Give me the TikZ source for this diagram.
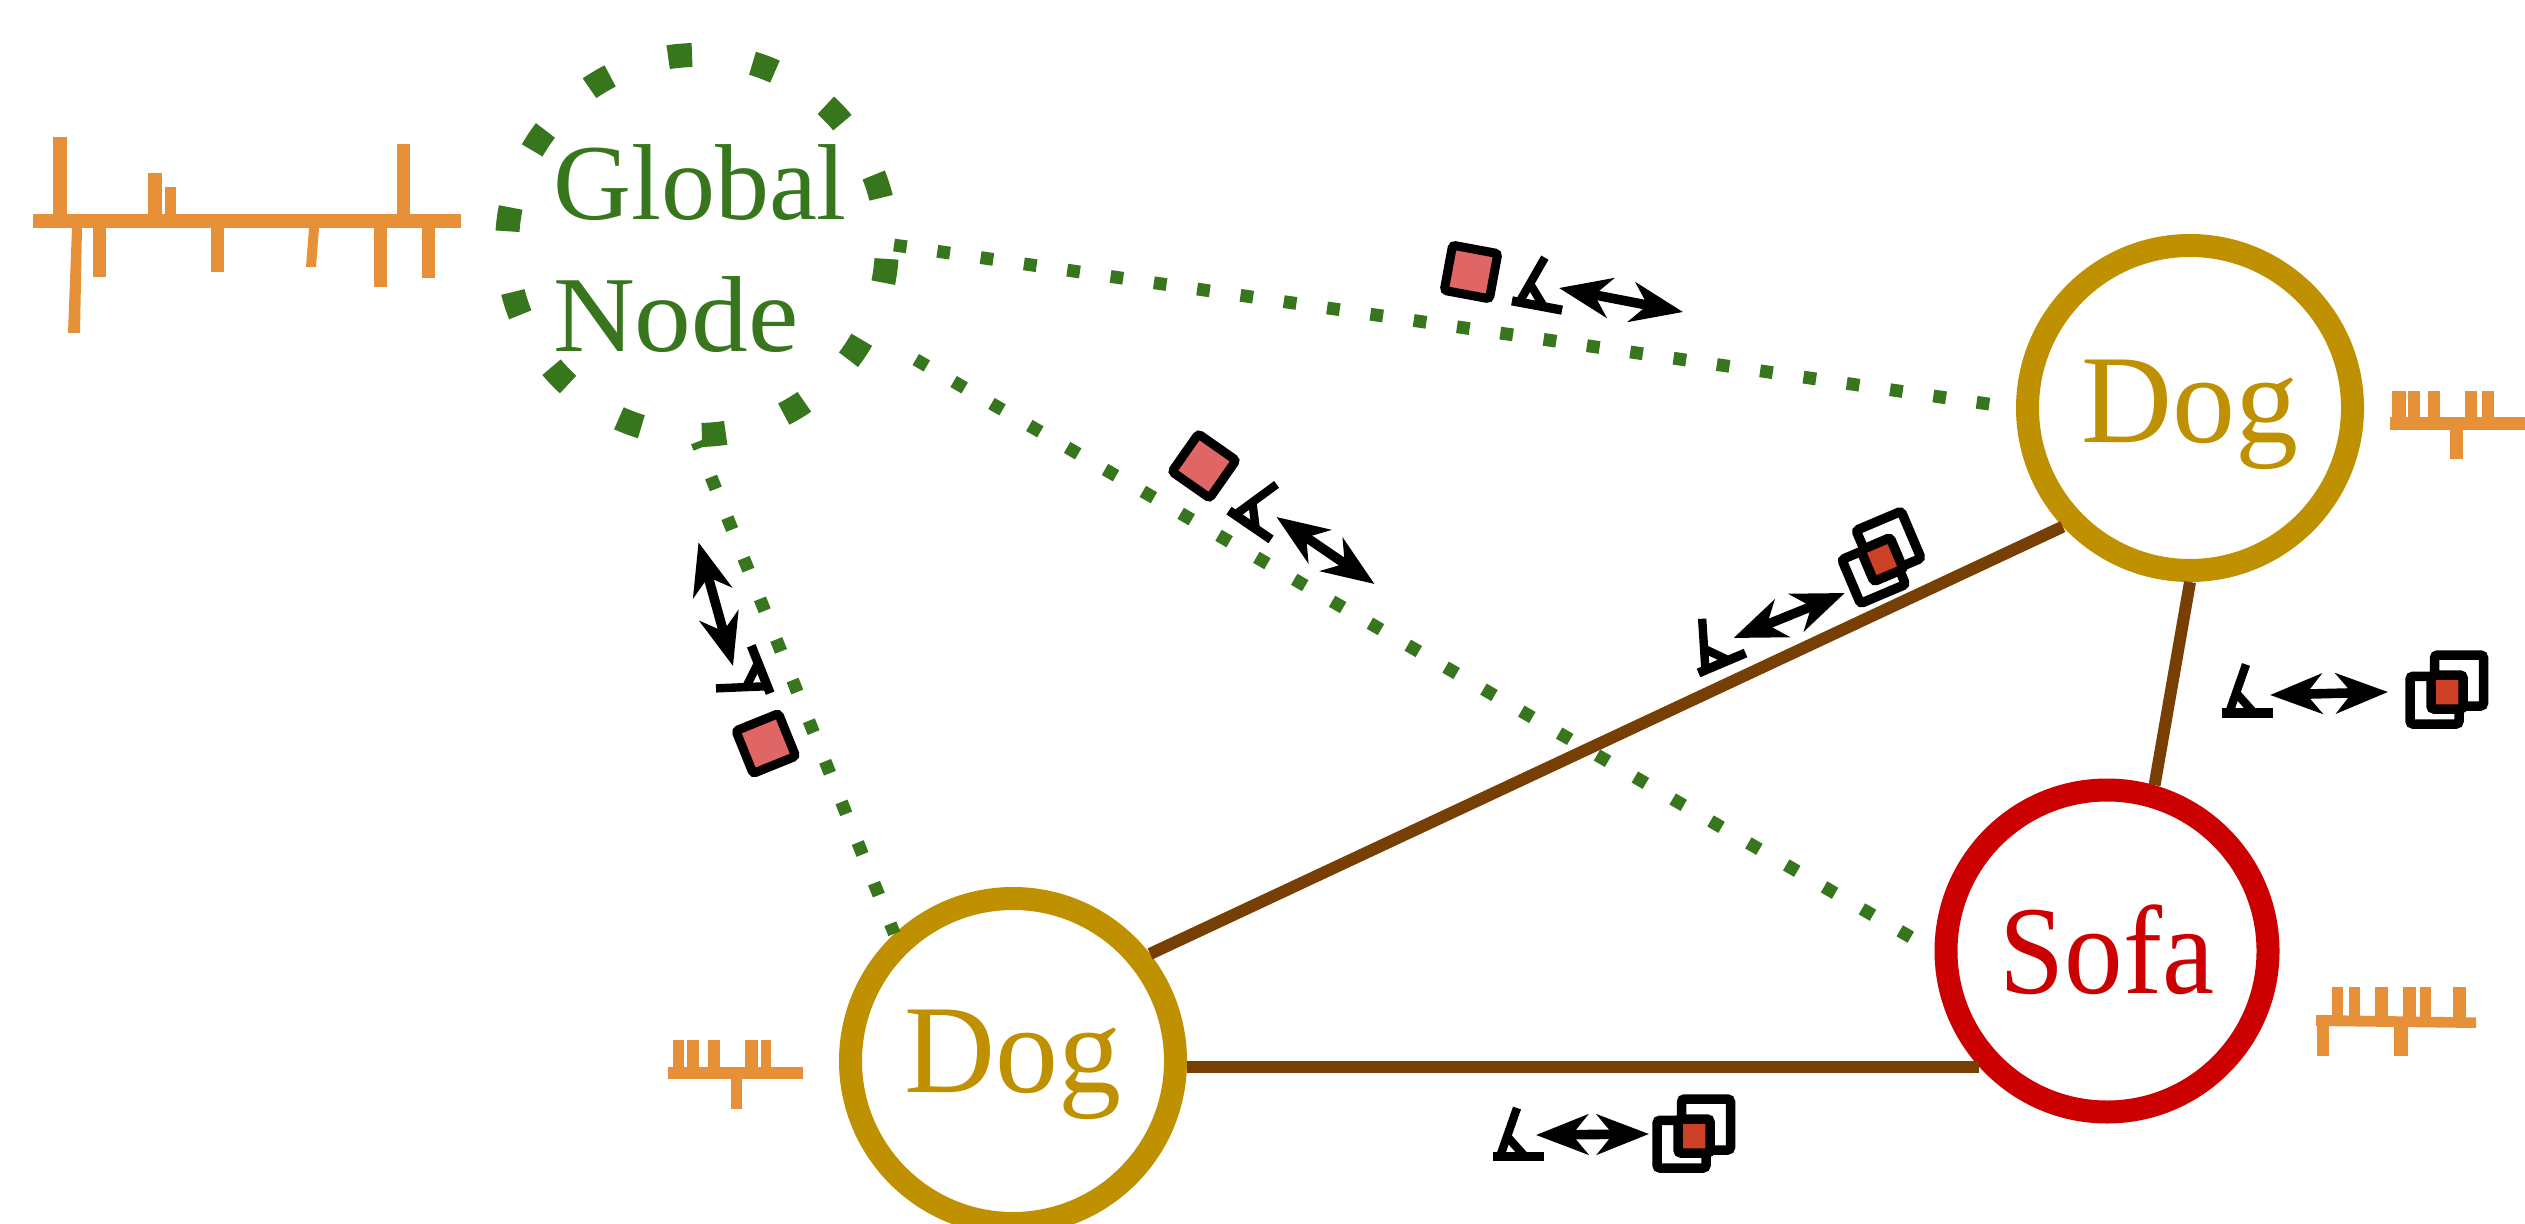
\documentclass[tikz,border=0pt]{standalone}
\usepackage{fontspec}
\setmainfont{Liberation Serif}
\usetikzlibrary{arrows.meta}
\definecolor{cgreen}{HTML}{38761D}
\definecolor{corange}{HTML}{E69138}
\definecolor{cgold}{HTML}{BF9000}
\definecolor{cred}{HTML}{CC0000}
\definecolor{cbrown}{HTML}{783F04}
\definecolor{cpink}{HTML}{E06666}
\definecolor{cfill}{HTML}{CC4125}
\tikzset{
  objnode/.style={circle,draw,line width=11.5pt,minimum size=162.5pt,inner sep=0pt,text depth=0pt,font=\fontsize{63}{70}\selectfont},
  dognode/.style={objnode,draw=cgold,text=cgold},
  sofanode/.style={objnode,draw=cred,text=cred,minimum size=161pt},
  globalnode/.style={circle,draw=cgreen,text=cgreen,line width=12pt,minimum size=190pt,inner sep=0pt,outer sep=3.5pt,
    dash pattern=on 12pt off 30.63pt,dash phase=18.8pt,align=left,font=\fontsize{54}{66}\selectfont},
  dotline/.style={draw=cgreen,line width=6.4pt,dash pattern=on 6.4pt off 15.48pt},
  brownline/.style={draw=cbrown,line width=6pt},
  dblarrow/.style={line width=4.8pt,{Stealth[length=26pt,width=20pt,inset=8pt]}-{Stealth[length=26pt,width=20pt,inset=8pt]}},
  glyph/.style={fill=corange},
  eyeicon/.pic={
    \draw[line width=4.6pt] (-25.5,0) -- (25.5,0);
    \draw[line width=4.2pt] (-1,-48.5) -- (-18,0);
    \draw[line width=4.2pt] (-9.5,-18.5) -- (7,0);
  },
  pinkbox/.pic={
    \draw[line width=4.5pt,fill=cpink,rounded corners=1.5pt] (-23,-23) rectangle (23,23);
  },
  dblbox/.pic={
    \draw[line width=4.75pt,rounded corners=1.5pt] (-12.5,-37) rectangle (36.5,14);
    \draw[line width=4.75pt,rounded corners=1.5pt] (-37,-15.7) rectangle (12,32);
    \draw[line width=4.75pt,fill=cfill,rounded corners=1.5pt] (-16,-17) rectangle (16,17);
  }
}
\begin{document}
\begin{tikzpicture}[x=0.5pt,y=-0.5pt]
\path[use as bounding box,fill=white] (0,0) rectangle (2525,1224);

% nodes
\node[globalnode] (global) at (697,245) {\rule{0pt}{41pt}\hspace*{3pt}Global\\\hspace*{3pt}\scalebox{1.05}[1]{Node}};
\node[dognode,text height=35pt] (dogR) at (2190,408) {Dog};
\node[dognode,text height=31pt] (dogL) at (1013,1061) {Dog};
\node[sofanode,text height=42pt] (sofa) at (2107,951) {\scalebox{.93}[1]{Sofa}};

% connectors
\draw[dotline] (global.east) -- (dogR.west);
\draw[dotline,shorten <=25pt] (global.-27) -- (sofa.west);
\draw[dotline,dash phase=3pt] (global.south) -- (dogL.133);
\draw[brownline] (dogL.38) -- (dogR.223);
\draw[brownline] (dogL.-2) -- (dogL.-2 -| sofa.222);
\draw[brownline] (dogR.south) -- (sofa.74);

% feature strip: global
\fill[glyph] (33,214) rectangle (461,228);
\fill[glyph] (53,137) rectangle (67,214);
\fill[glyph] (148,173) rectangle (162,214);
\fill[glyph] (165,187) rectangle (176,214);
\fill[glyph] (397,144) rectangle (410,214);
\fill[glyph] (72,228) -- (82,228) -- (80,333) -- (68,333) -- cycle;
\fill[glyph] (93,228) rectangle (106,277);
\fill[glyph] (211,228) rectangle (224,272);
\fill[glyph] (309,228) -- (319,228) -- (316,267) -- (306,267) -- cycle;
\fill[glyph] (374,228) rectangle (387,287);
\fill[glyph] (422,228) rectangle (435,278);

% feature strip: right dog
\fill[glyph] (2390,417) rectangle (2525,430);
\foreach \a/\b in {2392/2406,2408/2420,2428/2440,2465/2477,2482/2494}
  \fill[glyph] (\a,391) rectangle (\b,417);
\fill[glyph] (2450,430) rectangle (2463,459);

% feature strip: left dog
\fill[glyph] (668,1067) rectangle (803,1079);
\foreach \a/\b in {673/684,687/699,708/720,745/758,761/771}
  \fill[glyph] (\a,1040) rectangle (\b,1067);
\fill[glyph] (731,1079) rectangle (742,1109);

% feature strip: sofa
\fill[glyph] (2316,1015) -- (2476,1017.5) -- (2476,1028) -- (2316,1026) -- cycle;
\foreach \a/\b in {2332/2343,2349/2360,2375/2388,2403/2416,2420/2431,2453/2466}
  \fill[glyph] (\a,987) rectangle (\b,1018);
\fill[glyph] (2317,1025) rectangle (2329,1056);
\fill[glyph] (2394,1025) rectangle (2408,1056);

% pink icons
\pic[rotate=-10.5] at (1471,272) {pinkbox};
\pic[rotate=-10.5] at (1537,305.5) {eyeicon};
\coordinate (a1s) at (1559,288);
\coordinate (a1e) at (1683,312);
\draw[dblarrow] (a1s) -- (a1e);

\pic[rotate=-35] at (1204,466) {pinkbox};
\pic[rotate=-34.4] at (1250,525) {eyeicon};
\coordinate (a2s) at (1276.5,517);
\coordinate (a2e) at (1374.5,584);
\draw[dblarrow] (a2s) -- (a2e);

\pic[rotate=112] at (765.8,743.5) {pinkbox};
\pic[rotate=111.7] at (760.7,669.5) {eyeicon};
\coordinate (a3s) at (698.5,542.4);
\coordinate (a3e) at (733,666);
\draw[dblarrow] (a3s) -- (a3e);

% red icons
\pic[rotate=23] at (1722,663) {eyeicon};
\coordinate (a4s) at (1733.6,638);
\coordinate (a4e) at (1844.8,593);
\draw[dblarrow] (a4s) -- (a4e);
\pic[rotate=23] at (1882,559.6) {dblbox};

\pic at (2247,713) {eyeicon};
\coordinate (a5s) at (2270,695);
\coordinate (a5e) at (2388,692);
\draw[dblarrow] (a5s) -- (a5e);
\pic at (2447,692) {dblbox};

\pic at (1518,1156.5) {eyeicon};
\coordinate (a6s) at (1536,1135);
\coordinate (a6e) at (1649,1134);
\draw[dblarrow] (a6s) -- (a6e);
\pic at (1694,1136) {dblbox};
\end{tikzpicture}
\end{document}
